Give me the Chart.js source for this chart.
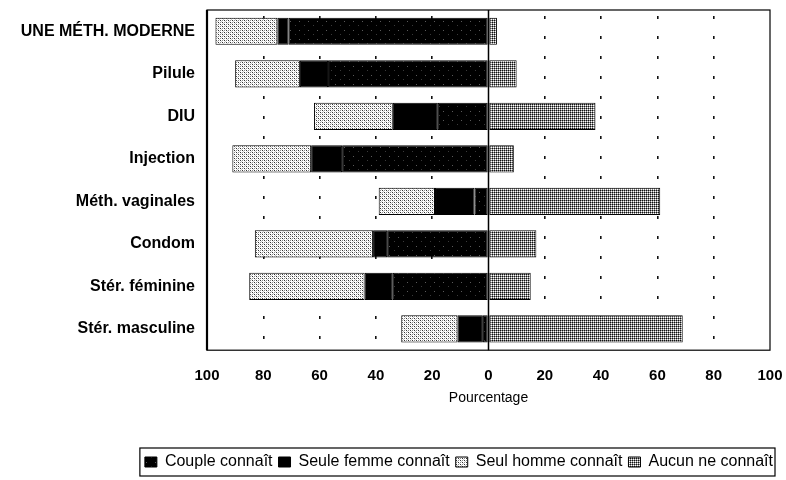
<!DOCTYPE html>
<html><head><meta charset="utf-8">
<script src="https://cdn.jsdelivr.net/npm/chart.js@4/dist/chart.umd.min.js"></script>
<style>html,body{margin:0;padding:0;background:#fff}#wrap{width:786px;height:480px}</style>
</head><body><div id="wrap"><canvas id="c" width="786" height="480"></canvas></div>
<script>
// ---- data ----
const categories = ['UNE MÉTH. MODERNE', 'Pilule', 'DIU', 'Injection', 'Méth. vaginales', 'Condom', 'Stér. féminine', 'Stér. masculine'];
const seriesNames = ['Couple connaît', 'Seule femme connaît', 'Seul homme connaît', 'Aucun ne connaît'];
const coupleConnait = [71, 57, 18, 52, 5, 36, 34, 2];
const seuleFemmeConnait = [4, 10, 16, 11, 14, 5, 10, 9];
const seulHommeConnait = [22, 23, 28, 28, 20, 42, 41, 20];
const aucunNeConnait = [3, 10, 38, 9, 61, 17, 15, 69];
const xTickValues = [-100, -80, -60, -40, -20, 0, 20, 40, 60, 80, 100];
const xAxisTitle = 'Pourcentage';

// ---- patterns ----
function makePattern(size, base, pixels) {
  const cv = document.createElement('canvas');
  cv.width = size; cv.height = size;
  const g = cv.getContext('2d');
  g.fillStyle = base; g.fillRect(0, 0, size, size);
  pixels.forEach(p => { g.fillStyle = p[2]; g.fillRect(p[0], p[1], 1, 1); });
  return g.createPattern(cv, 'repeat');
}
const ctx = document.getElementById('c').getContext('2d');
const pCouple = makePattern(9, '#000', [[2, 3, '#5a5a5a'], [7, 7, '#3a3a3a']]);
const pFemme = '#000';
const pHomme = makePattern(4, '#fff', [[0, 0, '#333'], [2, 2, '#333'], [2, 0, '#8a8a8a'], [0, 2, '#8a8a8a'], [1, 1, '#c8c8c8'], [3, 3, '#c8c8c8']]);
const pAucun = makePattern(2, '#8a8a8a', [[0, 0, '#111'], [1, 1, '#fff']]);

const neg = a => a.map(v => -v);

const fontFam = '"Liberation Sans", Arial, Helvetica, sans-serif';

const framePlugin = {
  id: 'framePlugin',
  afterDatasetsDraw(chart) {
    const { ctx, chartArea: a, scales } = chart;
    ctx.save();
    ctx.strokeStyle = '#000';
    const x0 = scales.x.getPixelForValue(0);
    ctx.lineWidth = 1.5;
    ctx.beginPath(); ctx.moveTo(x0, a.top); ctx.lineTo(x0, a.bottom); ctx.stroke();
    ctx.lineWidth = 1.2;
    ctx.strokeRect(a.left, a.top, a.right - a.left, a.bottom - a.top);
    ctx.lineWidth = 2.2;
    ctx.beginPath(); ctx.moveTo(a.left, a.top); ctx.lineTo(a.left, a.bottom); ctx.stroke();
    ctx.restore();
  },
  afterDraw(chart) {
    const lg = chart.legend;
    if (!lg || !lg.legendHitBoxes || !lg.legendHitBoxes.length) return;
    const hb = lg.legendHitBoxes;
    const l = Math.min(...hb.map(h => h.left)) - 5;
    const r = Math.max(...hb.map(h => h.left + h.width)) + 2;
    const t = Math.min(...hb.map(h => h.top)) - 6;
    const b = Math.max(...hb.map(h => h.top + h.height)) + 6;
    const c = chart.ctx;
    c.save();
    c.strokeStyle = '#000';
    c.lineWidth = 1.2;
    c.strokeRect(l, t, r - l, b - t);
    c.restore();
  }
};

new Chart(ctx, {
  type: 'bar',
  data: {
    labels: categories,
    datasets: [
      { label: seriesNames[0], data: neg(coupleConnait), backgroundColor: pCouple },
      { label: seriesNames[1], data: neg(seuleFemmeConnait), backgroundColor: pFemme },
      { label: seriesNames[2], data: neg(seulHommeConnait), backgroundColor: pHomme },
      { label: seriesNames[3], data: aucunNeConnait, backgroundColor: pAucun }
    ].map(d => Object.assign(d, {
      borderColor: '#000', borderWidth: 1, borderSkipped: false,
      barPercentage: 0.64, categoryPercentage: 1
    }))
  },
  options: {
    indexAxis: 'y',
    responsive: false,
    animation: false,
    devicePixelRatio: 1,
    layout: { padding: { top: 10, right: 7, bottom: 0, left: 0 } },
    scales: {
      x: {
        stacked: true,
        min: -100, max: 100,
        afterBuildTicks: s => { s.ticks = xTickValues.map(v => ({ value: v })); },
        afterFit: s => { s.paddingLeft = 0; s.paddingRight = 16; },
        ticks: {
          callback: v => String(Math.abs(v)),
          color: '#000',
          font: { family: fontFam, size: 15, weight: 'bold' },
          padding: 17,
          maxRotation: 0
        },
        grid: {
          drawTicks: false,
          color: c => (c.tick && (c.tick.value === 0 || Math.abs(c.tick.value) === 100)) ? 'rgba(0,0,0,0)' : '#111',
          lineWidth: 1.6
        },
        border: { display: false, dash: [3, 17], dashOffset: -6 },
        title: {
          display: true, text: xAxisTitle, color: '#000',
          font: { family: fontFam, size: 14 },
          padding: { top: -12, bottom: 41 }
        }
      },
      y: {
        stacked: true,
        afterFit: s => { s.width = 207; s.paddingTop = 0; s.paddingBottom = 0; },
        ticks: {
          color: '#000',
          font: { family: fontFam, size: 16, weight: 'bold' },
          padding: 12
        },
        grid: { display: false, drawTicks: false },
        border: { display: false }
      }
    },
    plugins: {
      legend: {
        position: 'bottom',
        align: 'end',
        labels: {
          color: '#000',
          font: { family: fontFam, size: 16 },
          boxWidth: 12, boxHeight: 10,
          padding: 6
        }
      },
      tooltip: { enabled: false }
    }
  },
  plugins: [framePlugin]
});
</script>
</body></html>
